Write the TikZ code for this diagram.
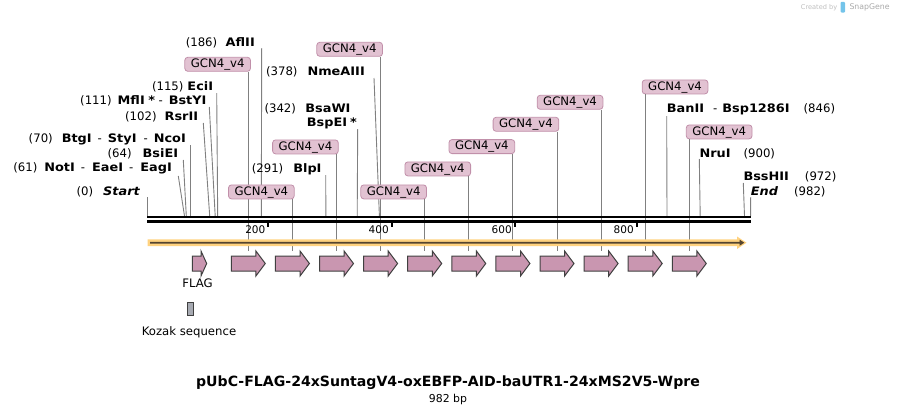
\documentclass[tikz,border=0pt]{standalone}
\usepackage{fontspec}
\setmainfont{DejaVu Sans}[BoldFont={DejaVu Sans Bold},ItalicFont={DejaVu Sans Oblique},BoldItalicFont={DejaVu Sans Bold Oblique}]
\newfontfamily\bfw{DejaVu Sans}[FakeStretch=1.1,BoldFont={DejaVu Sans Bold},ItalicFont={DejaVu Sans Oblique},BoldItalicFont={DejaVu Sans Bold Oblique}]
\newcommand\enz[1]{{\bfw\bfseries #1}}
\newcommand\enzi[1]{{\bfw\bfseries\itshape #1}}
\newcommand\lf{\fontsize{11.7}{13}\selectfont}
\definecolor{gcnfill}{HTML}{E2C2D2}
\definecolor{gcnedge}{HTML}{C190AA}
\definecolor{featfill}{HTML}{C996B0}
\definecolor{featedge}{HTML}{404040}
\definecolor{leadgray}{HTML}{808080}
\definecolor{orlight}{HTML}{FFD27F}
\definecolor{ordark}{HTML}{54442F}
\definecolor{kozfill}{HTML}{A7AAB2}
\definecolor{wmgray}{HTML}{BEBEBE}
\definecolor{wmdark}{HTML}{A9A9A9}
\definecolor{wmblue}{HTML}{74C4EA}
\tikzset{
  lab/.style={font=\lf, inner sep=0pt, text height=8.6pt, text depth=2.4pt},
  gcn/.style={lab, draw=gcnedge, fill=gcnfill, rounded corners=3pt, line width=0.8pt, minimum width=65.7pt, minimum height=14pt},
  leader/.style={draw=leadgray, line width=0.9pt},
  bbline/.style={line width=2.5pt, draw=black},
  feat/.style={draw=featedge, fill=featfill, line width=1pt, line join=miter},
  tickmark/.style={line width=1.8pt, draw=black},
  ticklab/.style={font=\fontsize{10.5}{12}\selectfont, inner sep=0pt, anchor=east, text height=7.6pt, text depth=0pt}
}
\begin{document}
\begin{tikzpicture}[x=1pt,y=-1pt]
\useasboundingbox (0,0) rectangle (898,413);

% enzyme leader lines
\foreach \n/\tx/\ty/\bx in {Afl/261.7/48/261.3, Eci/216.7/93/217.7, Mfl/209.3/107/215.2, Rsr/203.3/123/209.7, Btg/190/145/190, Bsi/183.3/160/186.3, Not/178.3/176/184.5, Start/147.3/197/147.3, Nme/374/78/379.4, Bsa/357.7/129/357.2, Blp/325.7/175/325.9, Ban/666.7/116/667, Nru/699.3/159/700.2, Bss/743.3/183/744.5, End/750.7/197/750.6}{
  \coordinate (t\n) at (\tx,\ty);
  \coordinate (b\n) at (\bx,216);
  \draw[leader] (t\n) -- (b\n);
}

% GCN4_v4 features with labels
\foreach \i/\anc/\dx/\yb in {1/south east/2.6/71.7, 2/south east/2.2/199.3, 3/south east/2.2/154.3, 4/south east/2.3/56.7, 5/south east/2.2/199.3, 6/south east/2.2/176.3, 7/south east/2.2/154, 8/south east/2.2/131.7, 9/south east/2.2/109.7, 10/south west/-3.4/94.3, 11/south west/-3.4/139.3}{
  \pgfmathsetmacro\s{231.3+44.1*(\i-1)}
  \coordinate (a\i) at ({\s+17},251);
  \node[gcn, anchor=\anc] (g\i) at ({\s+17+\dx},\yb) {GCN4\_v4};
  \draw[leader] (g\i.south -| a\i) -- (a\i);
}

% backbone
\coordinate (bbL1) at (147,217.2); \coordinate (bbR1) at (751,217.2);
\coordinate (bbL2) at (147,221.4); \coordinate (bbR2) at (751,221.4);
\draw[bbline] (bbL1) -- (bbR1);
\draw[bbline] (bbL2) -- (bbR2);

% ticks
\foreach \v/\x in {200/268.3, 400/391.7, 600/514.7, 800/636.7}{
  \coordinate (tk\v) at (\x,222.5);
  \coordinate (tke\v) at (\x,227);
  \draw[tickmark] (tk\v) -- (tke\v);
  \node[ticklab] (tl\v) at ({\x-2.8},229.5) {\v};
}

% orange direction arrow
\fill[orlight] (147.7,239.3) -- (737,239.3) -- (737,236.5) -- (746.5,242.7) -- (737,249) -- (737,246.1) -- (147.7,246.1) -- cycle;
\fill[ordark] (150,241.8) -- (739.5,241.8) -- (739.5,239.6) -- (744.3,242.7) -- (739.5,245.8) -- (739.5,243.6) -- (150,243.6) -- cycle;

% feature arrows
\foreach \i in {1,...,11}{
  \pgfmathsetmacro\s{231.3+44.1*(\i-1)}
  \draw[feat] (\s,256) -- ({\s+24.6},256) -- ({\s+24.6},251) -- ({\s+34},263.5) -- ({\s+24.6},276) -- ({\s+24.6},271) -- (\s,271) -- cycle;
}
\draw[feat] (192.3,256) -- (201,256) -- (201,251) -- (206.7,263.5) -- (201,276) -- (201,271) -- (192.3,271) -- cycle;
\node[lab] (flag) at (197.5,284.3) {FLAG};

% Kozak
\draw[draw=featedge, fill=kozfill, line width=0.9pt] (187.7,302.3) rectangle (193.3,315.7);
\node[lab] (koz) at (189,332.7) {Kozak sequence};

% enzyme labels
\node[lab,anchor=east] (eAfl) at (255,43.3) {(186)\hspace{8.5pt}\enz{AflII}};
\node[lab,anchor=east] (eEci) at (213.3,87.3) {(115)\hspace{4pt}\enz{EciI}};
\node[lab,anchor=east] (eMfl) at (206.7,101.7) {(111)\hspace{6pt}\enz{MflI}\hspace{3.5pt}\enz{*}\hspace{3.5pt}-\hspace{6pt}\enz{BstYI}};
\node[lab,anchor=east] (eRsr) at (198.3,117.7) {(102)\hspace{8pt}\enz{RsrII}};
\node[lab,anchor=east] (eBtg) at (186,139) {(70)\hspace{9pt}\enz{BtgI}\hspace{6pt}-\hspace{6pt}\enz{StyI}\hspace{7pt}-\hspace{6pt}\enz{NcoI}};
\node[lab,anchor=east] (eBsi) at (178.3,154) {(64)\hspace{11pt}\enz{BsiEI}};
\node[lab,anchor=east] (eNot) at (172,168) {(61)\hspace{7pt}\enz{NotI}\hspace{6pt}-\hspace{7pt}\enz{EaeI}\hspace{6pt}-\hspace{7pt}\enz{EagI}};
\node[lab,anchor=east] (eStart) at (140,192.3) {(0)\hspace{10pt}\enzi{Start}};
\node[lab,anchor=east] (eNme) at (365,72.3) {(378)\hspace{10pt}\enz{NmeAIII}};
\node[lab,anchor=east] (eBsa) at (350.7,109) {(342)\hspace{9.4pt}\enz{BsaWI}};
\node[lab,anchor=west] (eBsp) at (306.7,123.3) {\enz{BspEI}\hspace{3pt}\enz{*}};
\node[lab,anchor=east] (eBlp) at (321.7,169.3) {(291)\hspace{10pt}\enz{BlpI}};
\node[lab,anchor=west] (eBan) at (666.7,109) {\enz{BanII}\hspace{9pt}-\hspace{5pt}\enz{Bsp1286I}\hspace{14pt}(846)};
\node[lab,anchor=west] (eNru) at (699.3,154) {\enz{NruI}\hspace{13pt}(900)};
\node[lab,anchor=west] (eBss) at (743.3,177.3) {\enz{BssHII}\hspace{16pt}(972)};
\node[lab,anchor=west] (eEnd) at (750.7,192.3) {\enzi{End}\hspace{16pt}(982)};

% title
\node[font=\bfseries\fontsize{14.1}{16}\selectfont, inner sep=0pt] (title) at (448,382.4) {pUbC-FLAG-24xSuntagV4-oxEBFP-AID-baUTR1-24xMS2V5-Wpre};
\node[font=\fontsize{10.9}{12}\selectfont, inner sep=0pt] (bp) at (448,399) {982 bp};

% watermark
\node[font=\fontsize{6.6}{8}\selectfont, text=wmgray, anchor=west, inner sep=0pt] (wm1) at (800.7,7.3) {Created by};
\fill[wmblue, rounded corners=1pt] (840.5,1.8) rectangle (845,12.5);
\node[font=\fontsize{7.8}{9}\selectfont, text=wmdark, anchor=west, inner sep=0pt] (wm2) at (849.3,7.3) {SnapGene};
\end{tikzpicture}
\end{document}
